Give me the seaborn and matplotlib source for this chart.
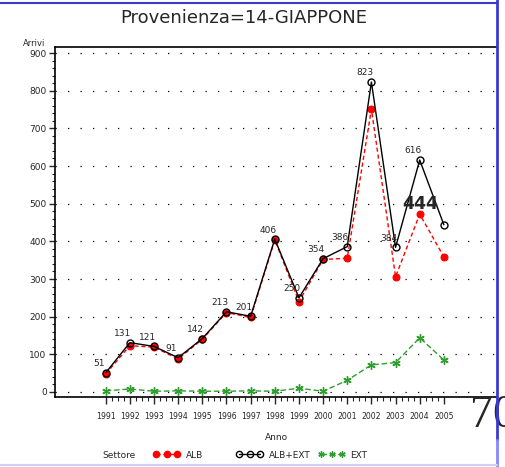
import matplotlib
matplotlib.use("Agg")
import matplotlib.pyplot as plt
from matplotlib.lines import Line2D
from matplotlib.ticker import MultipleLocator, FixedLocator
import numpy as np
import pandas as pd
import seaborn as sns

years = list(range(1991, 2006))
alb = [48, 123, 119, 88, 140, 211, 198, 404, 240, 352, 355, 751, 306, 472, 359]
alb_ext = [51, 131, 121, 91, 142, 213, 201, 406, 250, 354, 386, 823, 384, 616, 444]
ext = [3, 8, 2, 3, 2, 2, 3, 2, 10, 2, 31, 72, 78, 144, 85]
settori = ["ALB", "ALB+EXT", "EXT"]

df = pd.DataFrame({
    "Anno": years * 3,
    "Arrivi": alb + alb_ext + ext,
    "Settore": np.repeat(settori, len(years)),
})

sns.set_style("white")
plt.rcParams["font.family"] = ["DejaVu Sans"]

W, H = 505, 467
fig = plt.figure(figsize=(W / 100, H / 100), dpi=100)
ax = fig.add_axes([55 / W, 1 - 397 / H, 442 / W, 350 / H])

green = "#2e9e2e"
styles = {
    "ALB": dict(color="red", linestyle=(0, (3, 2)), marker="o", markerfacecolor="red",
                markeredgecolor="red", markersize=5),
    "ALB+EXT": dict(color="black", linestyle="-", marker="o", markerfacecolor="none",
                    markeredgecolor="black", markersize=5, markeredgewidth=1),
    "EXT": dict(color=green, linestyle=(0, (4, 2)), marker=(6, 2, 0), markerfacecolor=green,
                markeredgecolor=green, markersize=6, markeredgewidth=1),
}
for s in settori:
    sns.lineplot(data=df[df["Settore"] == s], x="Anno", y="Arrivi", ax=ax, lw=1,
                 legend=False, **styles[s])

# value labels above the total line
for yr, v in zip(years, alb_ext):
    if yr == 2005:
        ax.annotate(str(v), (yr, v), xytext=(-17, 15), textcoords="offset points",
                    ha="center", va="center", fontsize=12.5, fontweight="bold")
    else:
        ax.annotate(str(v), (yr, v), xytext=(-5, 6.5), textcoords="offset points",
                    ha="center", va="center", fontsize=6.5)

ax.set_xlim(1988.9, 2007.2)
ax.set_ylim(-13.3, 916)
ax.yaxis.set_major_locator(MultipleLocator(100))
ax.yaxis.set_minor_locator(MultipleLocator(20))
ax.xaxis.set_major_locator(FixedLocator(years))
minor_x = [y + f for y in years[:-1] for f in (0.25, 0.5, 0.75)]
ax.xaxis.set_minor_locator(FixedLocator(minor_x))
ax.tick_params(axis="y", which="major", direction="out", length=4, width=1, labelsize=6.5, pad=2)
ax.tick_params(axis="y", which="minor", direction="out", length=2, width=0.8)
ax.tick_params(axis="x", which="major", direction="out", length=5, width=1, labelsize=5.6, pad=6)
ax.tick_params(axis="x", which="minor", direction="out", length=3, width=0.8)
ax.tick_params(left=True, bottom=True, which="both")
ax.set_xlabel("")
ax.set_ylabel("")
ax.grid(axis="y", color="black", linestyle=(0, (1, 9)), lw=0.9)
ax.grid(axis="x", visible=False)
for sp in ["left", "bottom", "top"]:
    ax.spines[sp].set_color("black")
    ax.spines[sp].set_linewidth(1.2)
ax.spines["right"].set_visible(False)

fig.text(244 / W, 1 - 18 / H, "Provenienza=14-GIAPPONE", ha="center", va="center",
         fontsize=13)
fig.text(34 / W, 1 - 43 / H, "Arrivi", ha="center", va="center", fontsize=6)
fig.text(276 / W, 1 - 437 / H, "Anno", ha="center", va="center", fontsize=6.5)
fig.text(102 / W, 1 - 455 / H, "Settore", ha="left", va="center", fontsize=6.5)

for s, x0 in zip(settori, [153, 236, 318]):
    st = dict(styles[s])
    st["markersize"] = 4.5
    h = Line2D([], [], lw=1, **st)
    fig.legend(handles=[h], labels=[s], loc="center left", bbox_to_anchor=(x0 / W, 1 - 455 / H),
               frameon=False, handlelength=3.0, handletextpad=0.6, numpoints=3,
               borderpad=0, borderaxespad=0, fontsize=6.5)

fig.text(470 / W, 1 - 427 / H, "70", family=["Liberation Serif", "DejaVu Serif"],
         fontsize=33, ha="left", va="baseline", zorder=1)

# page border lines
fig.add_artist(Line2D([0, 497 / W], [1 - 3 / H] * 2, transform=fig.transFigure,
                      color="#3a3ad0", lw=1.5, zorder=5))
fig.add_artist(Line2D([497 / W] * 2, [1 - 440 / H, 1], transform=fig.transFigure,
                      color="#3a3ad0", lw=2, zorder=5))
fig.add_artist(Line2D([497 / W] * 2, [0, 1 - 440 / H], transform=fig.transFigure,
                      color="#8888ff", lw=2, zorder=5))
fig.add_artist(Line2D([0, 497 / W], [1 - 465 / H] * 2, transform=fig.transFigure,
                      color="#d0d0ff", lw=1.5, zorder=5))

fig.savefig("out.png", dpi=100)
